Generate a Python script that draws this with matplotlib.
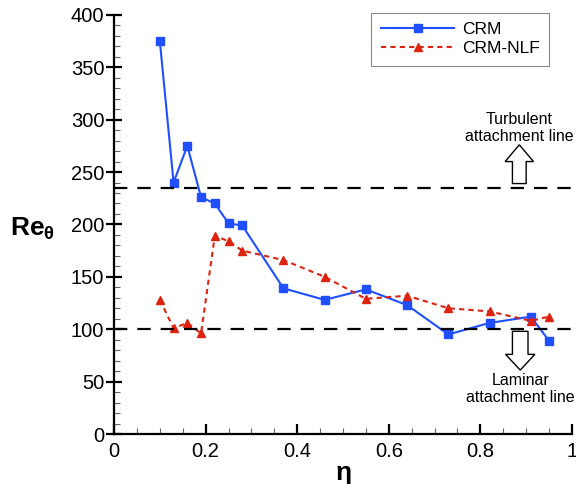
import matplotlib.pyplot as plt
from matplotlib.patches import FancyArrow
from matplotlib.ticker import MultipleLocator

plt.rcParams['font.family'] = ['Liberation Sans', 'DejaVu Sans']
plt.rcParams['mathtext.fontset'] = 'custom'
plt.rcParams['mathtext.rm'] = 'Liberation Sans'
plt.rcParams['mathtext.bf'] = 'Liberation Sans:bold'
plt.rcParams['mathtext.it'] = 'Liberation Sans:italic'

eta = [0.10, 0.13, 0.16, 0.19, 0.22, 0.25, 0.28, 0.37, 0.46, 0.55, 0.64, 0.73, 0.82, 0.91, 0.95]
re_crm = [375, 240, 275, 226, 220, 201, 199, 139, 128, 138, 123, 95, 106, 112, 89]
re_nlf = [128, 101, 106, 96, 189, 184, 175, 166, 150, 129, 132, 120, 117, 108, 112]
turbulent_level = 235
laminar_level = 100

fig = plt.figure(figsize=(5.76, 4.84), dpi=100)
ax = fig.add_axes([0.198, 0.1033, 0.795, 0.866])

ax.plot(eta, re_crm, color='#1f4fff', marker='s', markersize=5.5, lw=1.5, label='CRM')
ax.plot(eta, re_nlf, color='#dd2210', marker='^', markersize=5.5, lw=1.5, ls=(0, (2.5, 2)), label='CRM-NLF')
ax.axhline(turbulent_level, color='k', lw=1.6, ls=(0, (6, 4.5)))
ax.axhline(laminar_level, color='k', lw=1.6, ls=(0, (6, 4.5)))

# hollow block arrows
ax.add_patch(FancyArrow(0.885, 239, 0, 37, width=0.03, head_width=0.062, head_length=16,
                        length_includes_head=True, facecolor='white', edgecolor='k', lw=1))
ax.add_patch(FancyArrow(0.887, 98, 0, -37, width=0.034, head_width=0.064, head_length=15,
                        length_includes_head=True, facecolor='white', edgecolor='k', lw=1))
ax.text(0.885, 292, 'Turbulent\nattachment line', ha='center', va='center', fontsize=11.5, linespacing=1.15)
ax.text(0.887, 43, 'Laminar\nattachment line', ha='center', va='center', fontsize=11.5, linespacing=1.15)

ax.set_xlim(0, 1)
ax.set_ylim(0, 400)
ax.set_xticks([0, 0.2, 0.4, 0.6, 0.8, 1])
ax.set_xticklabels(['0', '0.2', '0.4', '0.6', '0.8', '1'])
ax.xaxis.set_minor_locator(MultipleLocator(0.05))
ax.yaxis.set_major_locator(MultipleLocator(50))
ax.yaxis.set_minor_locator(MultipleLocator(10))
ax.tick_params(which='both', top=False, right=False, labelsize=14.5)
ax.tick_params(axis='x', which='major', direction='in', length=7.5, width=1.6, pad=6)
ax.tick_params(axis='x', which='minor', direction='in', length=4.5, width=0.8, color='#666666')
ax.tick_params(axis='y', which='major', direction='inout', length=12, width=1.6, pad=1)
ax.tick_params(axis='y', which='minor', direction='in', length=4, width=0.8, color='#666666')
for side in ['top', 'right']:
    ax.spines[side].set_visible(False)
for side in ['left', 'bottom']:
    ax.spines[side].set_linewidth(1.6)

ax.set_xlabel(r'$\mathbf{\eta}$', fontsize=19, labelpad=1)
ax.set_ylabel(r'$\mathbf{Re_{\theta}}$', fontsize=19, rotation=0, va='center', ha='center')
ax.yaxis.set_label_coords(-0.178, 0.49)

leg = ax.legend(loc='upper right', bbox_to_anchor=(0.95, 1.005), borderaxespad=0, fontsize=12.5,
                fancybox=False, edgecolor='#888888', framealpha=1, handlelength=4.2,
                borderpad=0.55, labelspacing=0.2, handletextpad=0.45)
leg.get_frame().set_linewidth(0.8)

plt.savefig('out.png', dpi=100)
